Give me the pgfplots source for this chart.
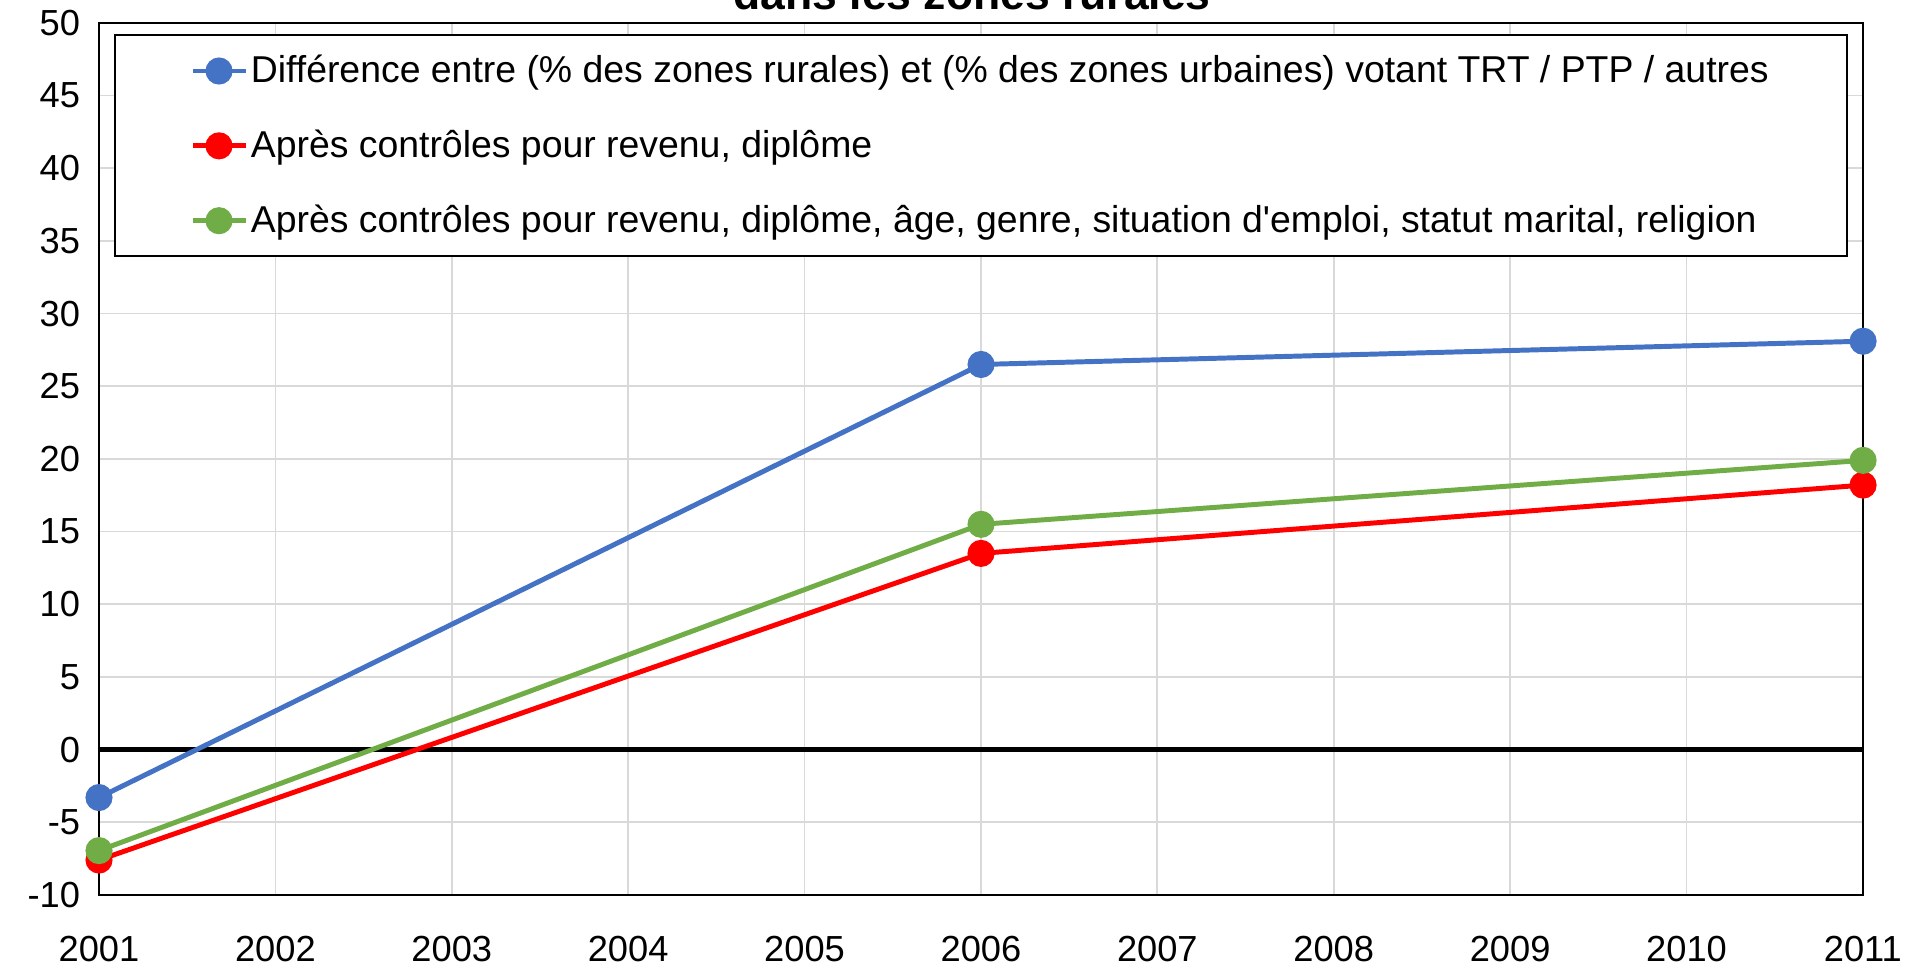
\documentclass[border=0pt]{standalone}
\usepackage{fontspec}
\setmainfont{Liberation Sans}
\usepackage{pgfplots}
\pgfplotsset{compat=1.18}
\definecolor{cblue}{HTML}{4472C4}
\definecolor{cred}{HTML}{FF0000}
\definecolor{cgreen}{HTML}{70AD47}
\definecolor{cgrid}{HTML}{D9D9D9}
\begin{document}
\begin{tikzpicture}
\begin{axis}[
  at={(0pt,0pt)}, anchor=south west,
  scale only axis, width=622.7pt, height=307.8pt,
  xmin=2001, xmax=2011, ymin=-10, ymax=50,
  xtick={2001,2002,...,2011}, ytick={-10,-5,...,50},
  major tick length=0pt,
  grid=major, major grid style={cgrid, line width=0.6pt},
  axis line style={black, line width=0.7pt},
  /pgf/number format/assume math mode=true,
  /pgf/number format/1000 sep={},
  tick label style={font=\fontsize{12.8}{15}\selectfont},
  yticklabel style={anchor=east, inner sep=0pt, xshift=-6.5pt},
  xticklabel style={anchor=north, inner sep=0pt, yshift=-14.4pt},
  legend cell align=left,
  legend image code/.code={\draw[#1, mark repeat=2, mark phase=2] plot coordinates {(0pt,0pt) (9.35pt,0pt) (18.7pt,0pt)};},
  legend style={at={(rel axis cs:0.0085,0.987)}, anchor=north west, draw=black, line width=0.7pt,
    inner xsep=26.5pt, inner ysep=3pt, row sep=7.2pt,
    nodes={inner xsep=1pt, inner ysep=4pt},
    font=\fontsize{13.2}{15.5}\selectfont},
]
\addplot[black, line width=1.6pt, forget plot] coordinates {(2001,0) (2011,0)};
\addplot[cblue, line width=1.75pt, mark=*, mark size=3.9pt, mark options={solid, fill=cblue, draw=cblue}]
  coordinates {(2001,-3.3) (2006,26.5) (2011,28.1)};
\addlegendentry{Différence entre (\% des zones rurales) et (\% des zones urbaines) votant TRT / PTP / autres}
\addplot[cred, line width=1.75pt, mark=*, mark size=3.9pt, mark options={solid, fill=cred, draw=cred}]
  coordinates {(2001,-7.6) (2006,13.5) (2011,18.2)};
\addlegendentry{Après contrôles pour revenu, diplôme}
\addplot[cgreen, line width=1.75pt, mark=*, mark size=3.9pt, mark options={solid, fill=cgreen, draw=cgreen}]
  coordinates {(2001,-6.95) (2006,15.5) (2011,19.9)};
\addlegendentry{Après contrôles pour revenu, diplôme, âge, genre, situation d\textquotesingle emploi, statut marital, religion}
\end{axis}
\node[font=\fontsize{15.7}{18}\selectfont\bfseries, anchor=base, inner sep=0pt] at (308.2pt,312.4pt) {dans les zones rurales};
\pgfresetboundingbox
\useasboundingbox (-34.95pt,-26.1pt) rectangle (643.5pt,315.9pt);
\end{tikzpicture}
\end{document}
